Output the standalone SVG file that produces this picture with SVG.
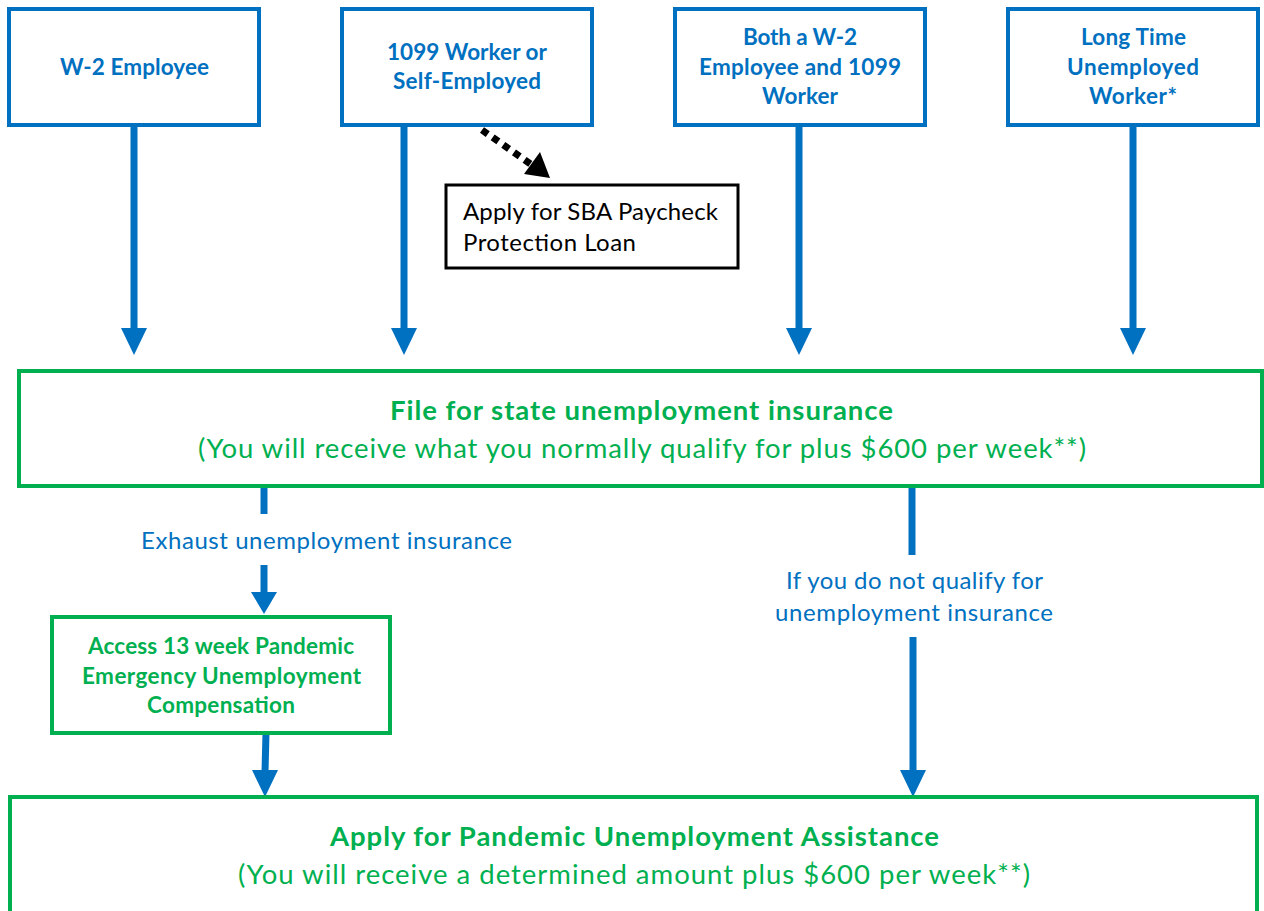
<svg xmlns="http://www.w3.org/2000/svg" width="1264" height="911" viewBox="0 0 1264 911">
<defs>
<style>
.bbox{fill:#fff;stroke:#0070C0;stroke-width:4}
.gbox{fill:#fff;stroke:#00B050;stroke-width:4}
.kbox{fill:#fff;stroke:#000;stroke-width:3}
.bt{font-family:Lato,"Liberation Sans",sans-serif;font-weight:bold;font-size:22.5px;fill:#0070C0;text-anchor:middle}
.gt{font-family:Lato,"Liberation Sans",sans-serif;font-weight:bold;fill:#00B050;text-anchor:middle}
.gr{font-family:Lato,"Liberation Sans",sans-serif;fill:#00B050;text-anchor:middle}
.lbl{font-family:Lato,"Liberation Sans",sans-serif;font-size:24px;fill:#0070C0;text-anchor:middle}
.kt{font-family:Lato,"Liberation Sans",sans-serif;font-size:24px;fill:#000}
.conn{stroke:#0070C0;stroke-width:7;fill:none}
.head{fill:#0070C0}
</style>
</defs>
<rect width="1264" height="911" fill="#fff"/>
<g id="connectors">
<line class="conn" x1="134" y1="125" x2="134" y2="330"/>
<polygon class="head" points="121,328 147,328 134,355"/>
<line class="conn" x1="404" y1="125" x2="404" y2="330"/>
<polygon class="head" points="391,328 417,328 404,355"/>
<line class="conn" x1="799" y1="125" x2="799" y2="330"/>
<polygon class="head" points="786,328 812,328 799,355"/>
<line class="conn" x1="1133" y1="125" x2="1133" y2="330"/>
<polygon class="head" points="1120,328 1146,328 1133,355"/>
<line x1="482" y1="130" x2="532" y2="165" stroke="#000" stroke-width="7" stroke-dasharray="7,6"/>
<polygon points="524,174 540,152 550,178" fill="#000"/>
<line class="conn" x1="264" y1="486" x2="264" y2="514"/>
<line class="conn" x1="264" y1="565" x2="264" y2="594"/>
<polygon class="head" points="251,592 277,592 264,614"/>
<line class="conn" x1="266" y1="733" x2="265" y2="772"/>
<polygon class="head" points="252,770 278,770 265,797"/>
<line class="conn" x1="912" y1="486" x2="912" y2="555"/>
<line class="conn" x1="913" y1="637" x2="913" y2="772"/>
<polygon class="head" points="900,770 926,770 913,797"/>
<text class="lbl" x="326.5" y="549" textLength="371">Exhaust unemployment insurance</text>
<text class="lbl" x="914.5" y="589" textLength="257">If you do not qualify for</text>
<text class="lbl" x="914" y="621" textLength="278">unemployment insurance</text>
</g>
<g id="w2">
<rect class="bbox" x="9" y="9" width="250" height="116"/>
<text class="bt" x="134.5" y="75" textLength="149">W-2 Employee</text>
</g>
<g id="n1099">
<rect class="bbox" x="342" y="9" width="250" height="116"/>
<text class="bt" x="467" y="60" textLength="160">1099 Worker or</text>
<text class="bt" x="467" y="89" textLength="148">Self-Employed</text>
</g>
<g id="both">
<rect class="bbox" x="675" y="9" width="250" height="116"/>
<text class="bt" x="800" y="45" textLength="114">Both a W-2</text>
<text class="bt" x="800" y="75" textLength="202">Employee and 1099</text>
<text class="bt" x="800" y="104" textLength="76">Worker</text>
</g>
<g id="longtime">
<rect class="bbox" x="1008" y="9" width="250" height="116"/>
<text class="bt" x="1133.5" y="45" textLength="105">Long Time</text>
<text class="bt" x="1133" y="75" textLength="132">Unemployed</text>
<text class="bt" x="1133" y="104" textLength="88">Worker*</text>
</g>
<g id="sba">
<rect class="kbox" x="446" y="185" width="292" height="83"/>
<text class="kt" x="463" y="220" textLength="255">Apply for SBA Paycheck</text>
<text class="kt" x="463" y="251" textLength="173">Protection Loan</text>
</g>
<g id="state">
<rect class="gbox" x="19" y="371" width="1243" height="115"/>
<text class="gt" x="641.5" y="420" font-size="27.5" textLength="503">File for state unemployment insurance</text>
<text class="gr" x="642" y="458" font-size="27.5" textLength="888">(You will receive what you normally qualify for plus $600 per week**)</text>
</g>
<g id="peuc">
<rect class="gbox" x="52" y="617" width="338" height="116"/>
<text class="gt" x="221" y="654" font-size="22.5" textLength="266">Access 13 week Pandemic</text>
<text class="gt" x="221.5" y="684" font-size="22.5" textLength="279">Emergency Unemployment</text>
<text class="gt" x="221" y="713" font-size="22.5" textLength="148">Compensation</text>
</g>
<g id="pua">
<rect class="gbox" x="10" y="797" width="1247" height="130"/>
<text class="gt" x="634.5" y="846" font-size="27.5" textLength="609">Apply for Pandemic Unemployment Assistance</text>
<text class="gr" x="634" y="884" font-size="27.5" textLength="792">(You will receive a determined amount plus $600 per week**)</text>
</g>
</svg>
